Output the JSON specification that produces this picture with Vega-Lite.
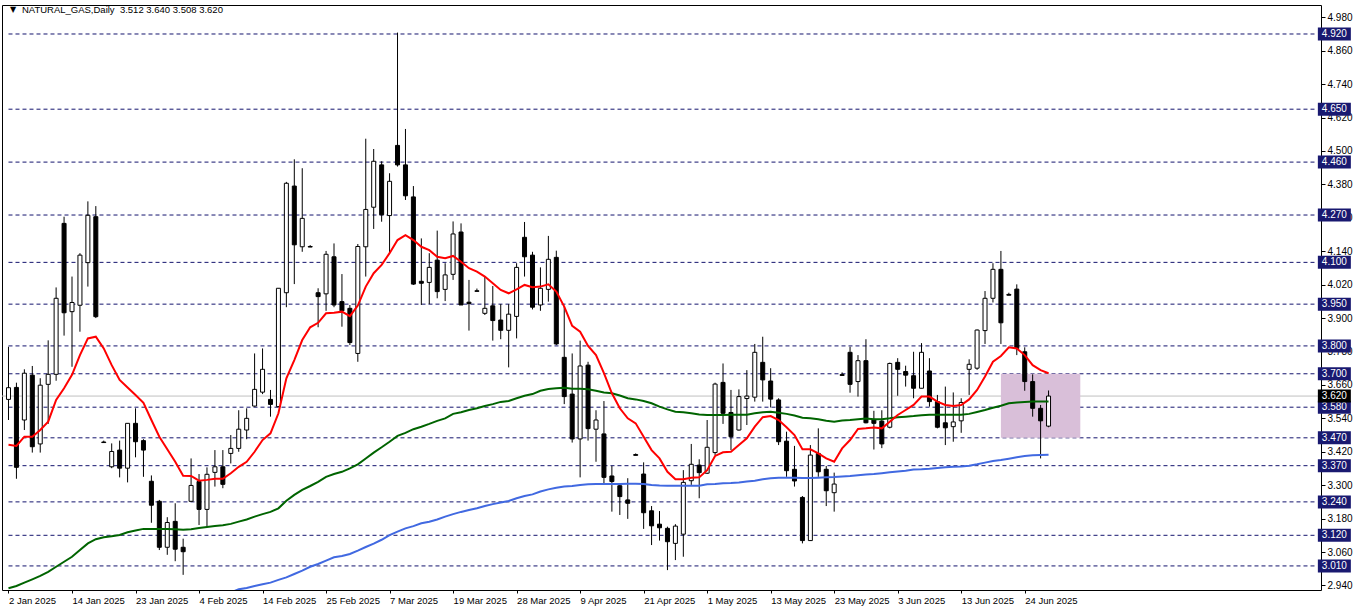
{
"$schema": "https://vega.github.io/schema/vega-lite/v6.json",
"width": 1319, "height": 585,
"autosize": {"type": "none"},
"padding": {"left": 2, "top": 5, "right": 41, "bottom": 21},
"background": "white",
"config": {"view": {"stroke": "black", "strokeWidth": 1}, "font": "Liberation Sans",
 "axis": {"labelOverlap": false, "labelFlush": false, "grid": false, "title": null, "domain": false, "tickColor": "black", "labelColor": "black", "labelFont": "Liberation Sans", "labelFontSize": 10, "labelSeparation": 0}},
"datasets": {
"levels": [{"p":4.92},{"p":4.65},{"p":4.46},{"p":4.27},{"p":4.10},{"p":3.95},{"p":3.80},{"p":3.70},{"p":3.58},{"p":3.47},{"p":3.37},{"p":3.24},{"p":3.12},{"p":3.01}],
"price": [{"p":3.62}],
"zone": [{"i0":125,"i1":135,"top":3.70,"bottom":3.47}],
"head": [{"sym":"▼","txt":"NATURAL_GAS,Daily\u00a0 3.512 3.640 3.508 3.620"}],
"bars": [
{"i":0,"o":3.608,"h":3.797,"l":3.534,"c":3.650,"r":3.445,"g":2.930},
{"i":1,"o":3.651,"h":3.668,"l":3.323,"c":3.364,"r":3.441,"g":2.938},
{"i":2,"o":3.534,"h":3.716,"l":3.498,"c":3.702,"r":3.474,"g":2.950},
{"i":3,"o":3.695,"h":3.728,"l":3.417,"c":3.438,"r":3.474,"g":2.962},
{"i":4,"o":3.448,"h":3.684,"l":3.417,"c":3.659,"r":3.498,"g":2.974},
{"i":5,"o":3.662,"h":3.820,"l":3.520,"c":3.698,"r":3.528,"g":2.989},
{"i":6,"o":3.698,"h":4.010,"l":3.675,"c":3.971,"r":3.606,"g":3.007},
{"i":7,"o":4.240,"h":4.264,"l":3.837,"c":3.919,"r":3.648,"g":3.025},
{"i":8,"o":3.923,"h":4.049,"l":3.725,"c":3.956,"r":3.696,"g":3.043},
{"i":9,"o":3.946,"h":4.133,"l":3.851,"c":4.126,"r":3.767,"g":3.067},
{"i":10,"o":4.099,"h":4.319,"l":4.013,"c":4.269,"r":3.827,"g":3.091},
{"i":11,"o":4.264,"h":4.302,"l":3.900,"c":3.905,"r":3.833,"g":3.106},
{"i":12,"o":3.455,"h":3.460,"l":3.452,"c":3.453,"r":3.791,"g":3.113},
{"i":13,"o":3.366,"h":3.450,"l":3.361,"c":3.421,"r":3.731,"g":3.117},
{"i":14,"o":3.426,"h":3.460,"l":3.328,"c":3.361,"r":3.678,"g":3.121},
{"i":15,"o":3.361,"h":3.522,"l":3.310,"c":3.522,"r":3.651,"g":3.131},
{"i":16,"o":3.522,"h":3.576,"l":3.400,"c":3.456,"r":3.624,"g":3.137},
{"i":17,"o":3.460,"h":3.465,"l":3.330,"c":3.426,"r":3.596,"g":3.143},
{"i":18,"o":3.314,"h":3.335,"l":3.165,"c":3.228,"r":3.534,"g":3.143},
{"i":19,"o":3.242,"h":3.247,"l":3.067,"c":3.077,"r":3.474,"g":3.143},
{"i":20,"o":3.077,"h":3.185,"l":3.050,"c":3.166,"r":3.429,"g":3.143},
{"i":21,"o":3.170,"h":3.235,"l":3.027,"c":3.070,"r":3.384,"g":3.142},
{"i":22,"o":3.077,"h":3.108,"l":2.978,"c":3.061,"r":3.334,"g":3.140},
{"i":23,"o":3.242,"h":3.396,"l":3.240,"c":3.299,"r":3.333,"g":3.142},
{"i":24,"o":3.313,"h":3.340,"l":3.157,"c":3.213,"r":3.316,"g":3.146},
{"i":25,"o":3.213,"h":3.364,"l":3.151,"c":3.339,"r":3.319,"g":3.150},
{"i":26,"o":3.346,"h":3.426,"l":3.295,"c":3.366,"r":3.323,"g":3.153},
{"i":27,"o":3.366,"h":3.426,"l":3.289,"c":3.303,"r":3.323,"g":3.156},
{"i":28,"o":3.414,"h":3.480,"l":3.378,"c":3.432,"r":3.343,"g":3.161,"b":2.915},
{"i":29,"o":3.432,"h":3.569,"l":3.420,"c":3.501,"r":3.366,"g":3.169,"b":2.926},
{"i":30,"o":3.498,"h":3.576,"l":3.465,"c":3.540,"r":3.384,"g":3.177,"b":2.931},
{"i":31,"o":3.584,"h":3.773,"l":3.582,"c":3.644,"r":3.420,"g":3.187,"b":2.938},
{"i":32,"o":3.634,"h":3.791,"l":3.627,"c":3.716,"r":3.462,"g":3.196,"b":2.944},
{"i":33,"o":3.608,"h":3.642,"l":3.546,"c":3.590,"r":3.486,"g":3.204,"b":2.950},
{"i":34,"o":3.582,"h":4.007,"l":3.580,"c":4.007,"r":3.558,"g":3.217,"b":2.960},
{"i":35,"o":3.991,"h":4.389,"l":3.939,"c":4.384,"r":3.684,"g":3.244,"b":2.969},
{"i":36,"o":4.374,"h":4.470,"l":4.022,"c":4.163,"r":3.749,"g":3.265,"b":2.981},
{"i":37,"o":4.156,"h":4.438,"l":4.138,"c":4.258,"r":3.821,"g":3.283,"b":2.993},
{"i":38,"o":4.157,"h":4.162,"l":4.155,"c":4.155,"r":3.867,"g":3.297,"b":3.007},
{"i":39,"o":3.991,"h":4.007,"l":3.867,"c":3.977,"r":3.883,"g":3.312,"b":3.017},
{"i":40,"o":3.987,"h":4.141,"l":3.926,"c":4.129,"r":3.917,"g":3.330,"b":3.029},
{"i":41,"o":4.120,"h":4.168,"l":3.939,"c":3.947,"r":3.919,"g":3.340,"b":3.041},
{"i":42,"o":3.959,"h":4.058,"l":3.869,"c":3.926,"r":3.923,"g":3.348,"b":3.046},
{"i":43,"o":3.935,"h":3.947,"l":3.803,"c":3.812,"r":3.907,"g":3.360,"b":3.053},
{"i":44,"o":3.773,"h":4.166,"l":3.743,"c":4.157,"r":3.945,"g":3.375,"b":3.065},
{"i":45,"o":4.156,"h":4.544,"l":4.049,"c":4.290,"r":4.013,"g":3.396,"b":3.078},
{"i":46,"o":4.298,"h":4.507,"l":4.220,"c":4.463,"r":4.061,"g":3.417,"b":3.090},
{"i":47,"o":4.450,"h":4.463,"l":4.246,"c":4.271,"r":4.091,"g":3.436,"b":3.104},
{"i":48,"o":4.268,"h":4.420,"l":4.133,"c":4.391,"r":4.133,"g":3.456,"b":3.121},
{"i":49,"o":4.520,"h":4.925,"l":4.444,"c":4.450,"r":4.180,"g":3.477,"b":3.133},
{"i":50,"o":4.450,"h":4.579,"l":4.324,"c":4.339,"r":4.198,"g":3.488,"b":3.145},
{"i":51,"o":4.335,"h":4.374,"l":4.019,"c":4.022,"r":4.180,"g":3.501,"b":3.153},
{"i":52,"o":4.032,"h":4.186,"l":3.947,"c":4.025,"r":4.156,"g":3.510,"b":3.163},
{"i":53,"o":4.028,"h":4.133,"l":3.950,"c":4.082,"r":4.144,"g":3.520,"b":3.169},
{"i":54,"o":4.108,"h":4.214,"l":3.971,"c":3.995,"r":4.120,"g":3.531,"b":3.177},
{"i":55,"o":4.003,"h":4.097,"l":3.961,"c":4.055,"r":4.115,"g":3.540,"b":3.187},
{"i":56,"o":4.057,"h":4.247,"l":4.037,"c":4.202,"r":4.123,"g":3.556,"b":3.196},
{"i":57,"o":4.209,"h":4.240,"l":3.947,"c":3.947,"r":4.102,"g":3.562,"b":3.204},
{"i":58,"o":3.957,"h":4.037,"l":3.855,"c":3.952,"r":4.079,"g":3.570,"b":3.211},
{"i":59,"o":3.998,"h":4.006,"l":3.996,"c":3.996,"r":4.067,"g":3.576,"b":3.217},
{"i":60,"o":3.917,"h":4.049,"l":3.911,"c":3.935,"r":4.049,"g":3.584,"b":3.225},
{"i":61,"o":3.944,"h":4.015,"l":3.819,"c":3.891,"r":4.025,"g":3.591,"b":3.232},
{"i":62,"o":3.893,"h":3.950,"l":3.824,"c":3.856,"r":4.001,"g":3.599,"b":3.238},
{"i":63,"o":3.856,"h":3.950,"l":3.723,"c":3.914,"r":3.989,"g":3.602,"b":3.243},
{"i":64,"o":3.906,"h":4.097,"l":3.827,"c":4.082,"r":4.003,"g":3.612,"b":3.253},
{"i":65,"o":4.190,"h":4.245,"l":4.049,"c":4.120,"r":4.019,"g":3.621,"b":3.261},
{"i":66,"o":4.126,"h":4.138,"l":3.931,"c":3.939,"r":4.011,"g":3.627,"b":3.267},
{"i":67,"o":3.947,"h":4.082,"l":3.926,"c":4.007,"r":4.013,"g":3.639,"b":3.277},
{"i":68,"o":4.003,"h":4.195,"l":3.959,"c":4.111,"r":4.021,"g":3.645,"b":3.285},
{"i":69,"o":4.118,"h":4.142,"l":3.803,"c":3.807,"r":3.995,"g":3.648,"b":3.291},
{"i":70,"o":3.759,"h":3.943,"l":3.591,"c":3.618,"r":3.941,"g":3.650,"b":3.295},
{"i":71,"o":3.627,"h":3.773,"l":3.453,"c":3.466,"r":3.872,"g":3.646,"b":3.297},
{"i":72,"o":3.466,"h":3.819,"l":3.328,"c":3.728,"r":3.851,"g":3.646,"b":3.301},
{"i":73,"o":3.731,"h":3.743,"l":3.460,"c":3.503,"r":3.800,"g":3.644,"b":3.303},
{"i":74,"o":3.501,"h":3.569,"l":3.384,"c":3.534,"r":3.767,"g":3.639,"b":3.304},
{"i":75,"o":3.484,"h":3.602,"l":3.307,"c":3.328,"r":3.702,"g":3.633,"b":3.304},
{"i":76,"o":3.333,"h":3.369,"l":3.205,"c":3.313,"r":3.630,"g":3.630,"b":3.304},
{"i":77,"o":3.298,"h":3.307,"l":3.193,"c":3.259,"r":3.576,"g":3.622,"b":3.304},
{"i":78,"o":3.247,"h":3.325,"l":3.179,"c":3.235,"r":3.540,"g":3.612,"b":3.305},
{"i":79,"o":3.410,"h":3.414,"l":3.407,"c":3.407,"r":3.522,"g":3.608,"b":3.305},
{"i":80,"o":3.340,"h":3.382,"l":3.143,"c":3.201,"r":3.474,"g":3.602,"b":3.304},
{"i":81,"o":3.208,"h":3.225,"l":3.085,"c":3.154,"r":3.426,"g":3.594,"b":3.301},
{"i":82,"o":3.160,"h":3.207,"l":3.101,"c":3.147,"r":3.396,"g":3.582,"b":3.299},
{"i":83,"o":3.145,"h":3.151,"l":2.995,"c":3.097,"r":3.348,"g":3.572,"b":3.298},
{"i":84,"o":3.091,"h":3.160,"l":3.031,"c":3.153,"r":3.321,"g":3.564,"b":3.298},
{"i":85,"o":3.124,"h":3.354,"l":3.043,"c":3.310,"r":3.321,"g":3.562,"b":3.298},
{"i":86,"o":3.316,"h":3.448,"l":3.301,"c":3.375,"r":3.327,"g":3.558,"b":3.298},
{"i":87,"o":3.372,"h":3.393,"l":3.253,"c":3.345,"r":3.328,"g":3.554,"b":3.298},
{"i":88,"o":3.343,"h":3.534,"l":3.340,"c":3.436,"r":3.354,"g":3.552,"b":3.303},
{"i":89,"o":3.417,"h":3.668,"l":3.408,"c":3.663,"r":3.405,"g":3.552,"b":3.304},
{"i":90,"o":3.669,"h":3.737,"l":3.520,"c":3.558,"r":3.418,"g":3.552,"b":3.307},
{"i":91,"o":3.561,"h":3.642,"l":3.426,"c":3.474,"r":3.420,"g":3.553,"b":3.308},
{"i":92,"o":3.498,"h":3.644,"l":3.496,"c":3.618,"r":3.444,"g":3.553,"b":3.310},
{"i":93,"o":3.611,"h":3.713,"l":3.516,"c":3.620,"r":3.468,"g":3.553,"b":3.313},
{"i":94,"o":3.616,"h":3.807,"l":3.600,"c":3.777,"r":3.510,"g":3.558,"b":3.316},
{"i":95,"o":3.741,"h":3.833,"l":3.600,"c":3.678,"r":3.544,"g":3.562,"b":3.321},
{"i":96,"o":3.674,"h":3.720,"l":3.579,"c":3.609,"r":3.548,"g":3.564,"b":3.325},
{"i":97,"o":3.606,"h":3.612,"l":3.444,"c":3.456,"r":3.534,"g":3.560,"b":3.327},
{"i":98,"o":3.458,"h":3.492,"l":3.330,"c":3.352,"r":3.508,"g":3.556,"b":3.327},
{"i":99,"o":3.357,"h":3.441,"l":3.295,"c":3.315,"r":3.480,"g":3.550,"b":3.327},
{"i":100,"o":3.256,"h":3.261,"l":3.091,"c":3.101,"r":3.429,"g":3.542,"b":3.326},
{"i":101,"o":3.101,"h":3.444,"l":3.100,"c":3.408,"r":3.429,"g":3.540,"b":3.326},
{"i":102,"o":3.414,"h":3.504,"l":3.330,"c":3.348,"r":3.414,"g":3.537,"b":3.327},
{"i":103,"o":3.357,"h":3.369,"l":3.225,"c":3.280,"r":3.396,"g":3.531,"b":3.328},
{"i":104,"o":3.273,"h":3.345,"l":3.205,"c":3.304,"r":3.384,"g":3.528,"b":3.329},
{"i":105,"o":3.697,"h":3.705,"l":3.694,"c":3.694,"r":3.432,"g":3.532,"b":3.331},
{"i":106,"o":3.777,"h":3.797,"l":3.632,"c":3.662,"r":3.462,"g":3.534,"b":3.333},
{"i":107,"o":3.672,"h":3.767,"l":3.618,"c":3.747,"r":3.502,"g":3.537,"b":3.336},
{"i":108,"o":3.747,"h":3.824,"l":3.522,"c":3.524,"r":3.504,"g":3.539,"b":3.338},
{"i":109,"o":3.536,"h":3.567,"l":3.428,"c":3.522,"r":3.507,"g":3.537,"b":3.340},
{"i":110,"o":3.530,"h":3.569,"l":3.433,"c":3.448,"r":3.504,"g":3.537,"b":3.343},
{"i":111,"o":3.508,"h":3.740,"l":3.504,"c":3.737,"r":3.528,"g":3.540,"b":3.346},
{"i":112,"o":3.741,"h":3.756,"l":3.621,"c":3.716,"r":3.552,"g":3.544,"b":3.349},
{"i":113,"o":3.708,"h":3.729,"l":3.654,"c":3.695,"r":3.570,"g":3.546,"b":3.352},
{"i":114,"o":3.693,"h":3.779,"l":3.612,"c":3.648,"r":3.588,"g":3.548,"b":3.356},
{"i":115,"o":3.648,"h":3.810,"l":3.648,"c":3.777,"r":3.618,"g":3.551,"b":3.357},
{"i":116,"o":3.710,"h":3.756,"l":3.582,"c":3.600,"r":3.618,"g":3.553,"b":3.359},
{"i":117,"o":3.600,"h":3.624,"l":3.504,"c":3.508,"r":3.600,"g":3.553,"b":3.362},
{"i":118,"o":3.524,"h":3.654,"l":3.444,"c":3.506,"r":3.588,"g":3.553,"b":3.364},
{"i":119,"o":3.510,"h":3.633,"l":3.456,"c":3.527,"r":3.584,"g":3.553,"b":3.366},
{"i":120,"o":3.531,"h":3.612,"l":3.488,"c":3.597,"r":3.588,"g":3.553,"b":3.367},
{"i":121,"o":3.716,"h":3.752,"l":3.624,"c":3.734,"r":3.608,"g":3.556,"b":3.370},
{"i":122,"o":3.720,"h":3.859,"l":3.714,"c":3.857,"r":3.642,"g":3.563,"b":3.375},
{"i":123,"o":3.855,"h":3.997,"l":3.807,"c":3.971,"r":3.690,"g":3.570,"b":3.381},
{"i":124,"o":3.971,"h":4.097,"l":3.956,"c":4.075,"r":3.743,"g":3.578,"b":3.387},
{"i":125,"o":4.075,"h":4.141,"l":3.807,"c":3.883,"r":3.764,"g":3.585,"b":3.390},
{"i":126,"o":3.985,"h":3.991,"l":3.982,"c":3.982,"r":3.795,"g":3.594,"b":3.395},
{"i":127,"o":4.004,"h":4.021,"l":3.767,"c":3.791,"r":3.791,"g":3.597,"b":3.400},
{"i":128,"o":3.779,"h":3.795,"l":3.639,"c":3.672,"r":3.767,"g":3.599,"b":3.405},
{"i":129,"o":3.672,"h":3.698,"l":3.546,"c":3.576,"r":3.731,"g":3.600,"b":3.407},
{"i":130,"o":3.576,"h":3.588,"l":3.396,"c":3.531,"r":3.713,"g":3.600,"b":3.408},
{"i":131,"o":3.512,"h":3.640,"l":3.508,"c":3.620,"r":3.702,"g":3.600,"b":3.409}
]
},
"layer": [
{"data": {"name": "levels"}, "mark": {"type": "rule", "color": "#14146e", "strokeWidth": 1, "strokeDash": [4, 3]},
 "encoding": {
  "x": {"datum": 0, "type": "quantitative", "scale": {"domain": [-0.1875, 164.6875], "nice": false, "zero": false},
   "axis": {"orient": "bottom", "values": [0,8,16,24,32,40,48,56,64,72,80,88,96,104,112,120,128], "tickCount": 60, "title": null, "grid": false, "domain": false,
    "tickSize": 3, "labelAlign": "left", "labelBaseline": "top", "labelPadding": 2, "labelFontSize": 9.5, "labelOverlap": false, "labelFlush": false,
    "labelExpr": "['2 Jan 2025','14 Jan 2025','23 Jan 2025','4 Feb 2025','14 Feb 2025','25 Feb 2025','7 Mar 2025','19 Mar 2025','28 Mar 2025','9 Apr 2025','21 Apr 2025','1 May 2025','13 May 2025','23 May 2025','3 Jun 2025','13 Jun 2025','24 Jun 2025'][round(datum.value/8)]"}},
  "x2": {"datum": 164.6875},
  "y": {"field": "p", "type": "quantitative", "scale": {"domain": [2.9236, 5.0241], "nice": false, "zero": false},
   "axis": {"orient": "right", "values": [2.94,3.06,3.18,3.30,3.42,3.54,3.66,3.78,3.90,4.02,4.14,4.26,4.38,4.50,4.62,4.74,4.86,4.98], "tickCount": 60, "format": ".3f", "title": null, "grid": false, "domain": false,
    "tickSize": 4, "labelPadding": 2, "labelOverlap": false, "labelFlush": false, "labelBound": false}}
 }},
{"data": {"name": "price"}, "mark": {"type": "rule", "color": "#c0c0c0", "strokeWidth": 1},
 "encoding": {"y": {"field": "p", "type": "quantitative"}}},
{"data": {"name": "zone"}, "mark": {"type": "rect", "color": "#d9bfd9", "opacity": 1},
 "encoding": {"x": {"field": "i0", "type": "quantitative"}, "x2": {"field": "i1"},
  "y": {"field": "top", "type": "quantitative"}, "y2": {"field": "bottom"}}},
{"data": {"name": "bars"}, "mark": {"type": "rule", "color": "black", "strokeWidth": 1},
 "encoding": {"x": {"field": "i", "type": "quantitative"},
  "y": {"field": "l", "type": "quantitative"}, "y2": {"field": "h"}}},
{"data": {"name": "bars"}, "mark": {"type": "bar", "width": 4, "stroke": "black", "strokeWidth": 1},
 "encoding": {"x": {"field": "i", "type": "quantitative"},
  "y": {"field": "o", "type": "quantitative"}, "y2": {"field": "c"},
  "fill": {"condition": {"test": "datum.c > datum.o", "value": "white"}, "value": "black"}}},
{"data": {"name": "bars"}, "mark": {"type": "line", "color": "#006400", "strokeWidth": 2, "clip": true},
 "encoding": {"x": {"field": "i", "type": "quantitative"}, "y": {"field": "g", "type": "quantitative"}}},
{"data": {"name": "bars"}, "mark": {"type": "line", "color": "#4169e1", "strokeWidth": 2, "clip": true},
 "encoding": {"x": {"field": "i", "type": "quantitative"}, "y": {"field": "b", "type": "quantitative"}}},
{"data": {"name": "bars"}, "mark": {"type": "line", "color": "#ff0000", "strokeWidth": 2, "clip": true},
 "encoding": {"x": {"field": "i", "type": "quantitative"}, "y": {"field": "r", "type": "quantitative"}}},
{"data": {"name": "levels"}, "mark": {"type": "point", "shape": "M-1,-0.394H1V0.394H-1Z", "size": 1089, "filled": true, "color": "#191970", "opacity": 1},
 "encoding": {"x": {"datum": 167.0, "type": "quantitative"}, "y": {"field": "p", "type": "quantitative"}}},
{"data": {"name": "levels"}, "mark": {"type": "text", "color": "white", "fontSize": 10, "font": "Liberation Sans", "align": "center", "baseline": "middle"},
 "encoding": {"x": {"datum": 167.0, "type": "quantitative"}, "y": {"field": "p", "type": "quantitative"}, "text": {"field": "p", "type": "quantitative", "format": ".3f"}}},
{"data": {"name": "price"}, "mark": {"type": "point", "shape": "M-1,-0.394H1V0.394H-1Z", "size": 1089, "filled": true, "color": "black", "opacity": 1},
 "encoding": {"x": {"datum": 167.0, "type": "quantitative"}, "y": {"field": "p", "type": "quantitative"}}},
{"data": {"name": "price"}, "mark": {"type": "text", "color": "white", "fontSize": 10, "font": "Liberation Sans", "align": "center", "baseline": "middle"},
 "encoding": {"x": {"datum": 167.0, "type": "quantitative"}, "y": {"field": "p", "type": "quantitative"}, "text": {"field": "p", "type": "quantitative", "format": ".3f"}}},
{"data": {"name": "head"}, "mark": {"type": "text", "color": "black", "fontSize": 8, "font": "DejaVu Sans", "align": "center", "baseline": "middle"},
 "encoding": {"x": {"datum": 0.5625, "type": "quantitative"}, "y": {"datum": 5.006, "type": "quantitative"}, "text": {"field": "sym"}}},
{"data": {"name": "head"}, "mark": {"type": "text", "color": "black", "fontSize": 9.5, "font": "Liberation Sans", "align": "left", "baseline": "middle"},
 "encoding": {"x": {"datum": 1.6875, "type": "quantitative"}, "y": {"datum": 5.006, "type": "quantitative"}, "text": {"field": "txt"}}}
]
}
